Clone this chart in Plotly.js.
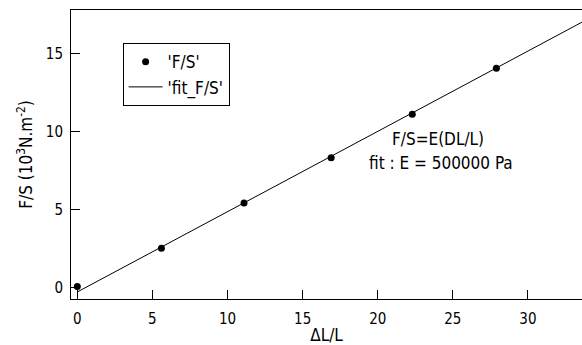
<!DOCTYPE html>
<html>
<head>
<meta charset="utf-8">
<script src="https://cdn.plot.ly/plotly-3.0.1.min.js"></script>
<style>html,body{margin:0;padding:0;background:#fff;}#chart{width:582px;height:345px;}</style>
</head>
<body>
<div id="chart"></div>
<script>
// measured data (ΔL/L, F/S in 10^3 N.m^-2)
const strainX = [0, 5.6, 11.1, 16.9, 22.3, 27.9];
const stressY = [0.05, 2.5, 5.4, 8.3, 11.1, 14.05];
// fitted line end points
const fitX = [0, 33.6];
const fitY = [-0.3, 17.0];
const xTicks = [0, 5, 10, 15, 20, 25, 30];
const yTicks = [0, 5, 10, 15];

const FAM = '"DejaVu Sans Condensed", "DejaVu Sans", sans-serif';
const tickFont = {family: FAM, size: 15, color: '#000'};
const textFont = {family: FAM, size: 17, color: '#000'};
const annFont = {family: FAM, size: 17, color: '#000'};

const traces = [
  {x: strainX, y: stressY, type: 'scatter', mode: 'markers', name: "'F/S'",
   marker: {color: '#000', size: 7, symbol: 'circle'}},
  {x: fitX, y: fitY, type: 'scatter', mode: 'lines', name: "'fit_F/S'",
   line: {color: '#000', width: 1}}
];

const layout = {
  width: 582, height: 345,
  margin: {l: 71, r: 0, t: 10, b: 46},
  paper_bgcolor: '#fff', plot_bgcolor: '#fff',
  font: textFont,
  showlegend: true,
  legend: {x: 0.101, y: 0.885, xanchor: 'left', yanchor: 'top',
    bordercolor: '#000', borderwidth: 1, bgcolor: '#fff',
    font: textFont, tracegroupgap: 0, itemwidth: 34},
  xaxis: {range: [-0.42, 33.6], tickvals: xTicks, ticktext: xTicks.map(String),
    ticks: 'inside', ticklen: 9, tickcolor: '#000', tickwidth: 1,
    ticklabelstandoff: 6, tickfont: tickFont,
    showline: true, linecolor: '#000', linewidth: 1, mirror: true,
    showgrid: false, zeroline: false,
    title: {text: 'ΔL/L', font: textFont, standoff: 0}},
  yaxis: {range: [-0.75, 17.78], tickvals: yTicks, ticktext: yTicks.map(String),
    ticks: 'inside', ticklen: 9, tickcolor: '#000', tickwidth: 1,
    ticklabelstandoff: 4, tickfont: tickFont,
    showline: true, linecolor: '#000', linewidth: 1,
    showgrid: false, zeroline: false,
    title: {text: 'F/S (10<sup>3</sup>N.m<sup>-2</sup>)', font: textFont, standoff: 8}},
  annotations: [
    {x: 20.8, y: 9.5, xref: 'x', yref: 'y', text: 'F/S=E(DL/L)', showarrow: false,
     xanchor: 'left', yanchor: 'middle', font: annFont},
    {x: 19.3, y: 7.95, xref: 'x', yref: 'y', text: 'fit : E = 500000 Pa', showarrow: false,
     xanchor: 'left', yanchor: 'middle', font: annFont}
  ]
};

Plotly.newPlot('chart', traces, layout, {displayModeBar: false, staticPlot: true});
</script>
</body>
</html>
